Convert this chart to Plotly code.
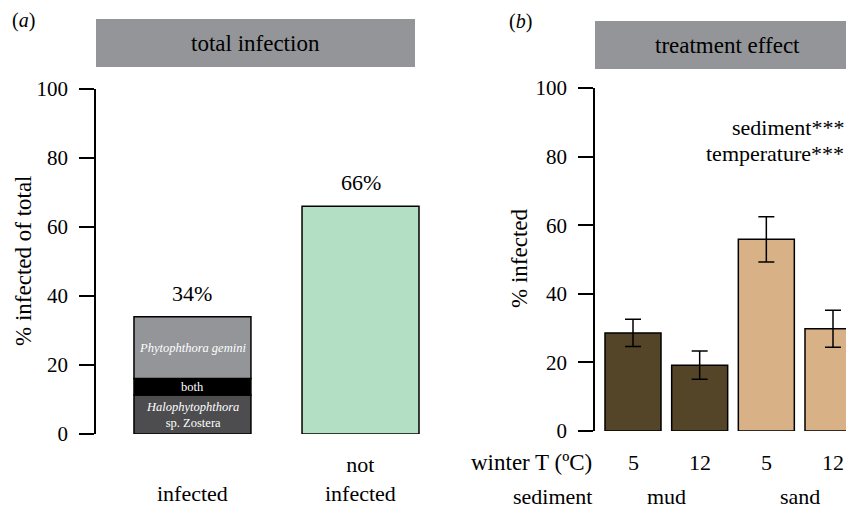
import plotly.graph_objects as go

# ---------------- data ----------------
# panel (a): total infection
a_positions = [0, 1]
a_labels = ["infected", "not<br>infected"]
a_totals = [34, 66]
a_total_text = ["34%", "66%"]
infected_segments = ["<i>Halophytophthora</i><br>sp. Zostera", "both", "<i>Phytophthora gemini</i>"]
infected_values = [11.3, 4.8, 17.9]
not_infected_value = [66]

# panel (b): treatment effect
b_positions = [0, 1, 2, 3]
b_temps = ["5", "12", "5", "12"]
b_sediments = ["mud", "sand"]
b_values = [28.6, 19.2, 55.9, 29.8]
b_errors = [4.0, 4.1, 6.6, 5.4]

y_ticks = [0, 20, 40, 60, 80, 100]

# ---------------- styles ----------------
FONT = "Liberation Serif, Times New Roman, Tinos, Nimbus Roman, DejaVu Serif, serif"
FS = 22
FS_L = 23
W, H = 854, 508
OFF = 8  # page offset of the figure inside the browser window
seg_colors = ["#4d4d4f", "#000000", "#939598"]
notinf_color = "#b3e0c5"
b_colors = ["#544428", "#544428", "#d8b186", "#d8b186"]
header_color = "#939598"


def px(x):
    return (x - OFF) / W


def py(y):
    return (H - (y - OFF)) / H


fig = go.Figure()

# panel a stacked bar
base = 0
for name, val, col in zip(infected_segments, infected_values, seg_colors):
    fig.add_trace(go.Bar(x=[a_positions[0]], y=[val], base=[base], width=0.696,
                         marker=dict(color=col, line=dict(color="black", width=1.5)),
                         xaxis="x", yaxis="y", showlegend=False, hoverinfo="skip"))
    base += val
fig.add_trace(go.Bar(x=[a_positions[1]], y=not_infected_value, width=0.696,
                     marker=dict(color=notinf_color, line=dict(color="black", width=1.5)),
                     xaxis="x", yaxis="y", showlegend=False, hoverinfo="skip"))

# panel b bars
fig.add_trace(go.Bar(x=b_positions, y=b_values, width=0.84,
                     marker=dict(color=b_colors, line=dict(color="black", width=1.5)),
                     error_y=dict(type="data", array=b_errors, color="black", thickness=1.5, width=8),
                     xaxis="x2", yaxis="y2", showlegend=False, hoverinfo="skip"))

annotations = []
# segment labels
base = 0
for name, val in zip(infected_segments, infected_values):
    annotations.append(dict(x=a_positions[0], y=base + val / 2, xref="x", yref="y", text=name,
                            showarrow=False, font=dict(family=FONT, size=12.5, color="white")))
    base += val
# totals above bars
for xpos, tot, txt in zip(a_positions, a_totals, a_total_text):
    annotations.append(dict(x=xpos, y=tot, xref="x", yref="y", text=txt, showarrow=False,
                            yanchor="bottom", yshift=9, font=dict(family=FONT, size=FS)))
# category labels panel a
for xpos, lab in zip(a_positions, a_labels):
    annotations.append(dict(x=xpos, y=py(508), xref="x", yref="paper", text=lab, showarrow=False,
                            yanchor="bottom", font=dict(family=FONT, size=FS)))
# temperature labels panel b
for xpos, lab in zip(b_positions, b_temps):
    annotations.append(dict(x=xpos, y=py(462), xref="x2", yref="paper", text=lab, showarrow=False,
                            yanchor="middle", font=dict(family=FONT, size=FS)))
# sediment labels
for i, lab in enumerate(b_sediments):
    annotations.append(dict(x=(b_positions[2 * i] + b_positions[2 * i + 1]) / 2, y=py(496), xref="x2",
                            yref="paper", text=lab, showarrow=False, yanchor="middle",
                            font=dict(family=FONT, size=FS)))
annotations += [
    dict(x=px(594), y=py(462), xref="paper", yref="paper", text="winter T (ºC)", showarrow=False,
         xanchor="right", yanchor="middle", font=dict(family=FONT, size=FS_L)),
    dict(x=px(594), y=py(496), xref="paper", yref="paper", text="sediment", showarrow=False,
         xanchor="right", yanchor="middle", font=dict(family=FONT, size=FS)),
    dict(x=px(846), y=py(127), xref="paper", yref="paper", text="sediment***", showarrow=False,
         xanchor="right", yanchor="middle", font=dict(family=FONT, size=FS)),
    dict(x=px(846), y=py(153), xref="paper", yref="paper", text="temperature***", showarrow=False,
         xanchor="right", yanchor="middle", font=dict(family=FONT, size=FS)),
    dict(x=px(255.5), y=py(44), xref="paper", yref="paper", text="total infection", showarrow=False,
         xanchor="center", yanchor="middle", font=dict(family=FONT, size=FS_L)),
    dict(x=px(727.5), y=py(46), xref="paper", yref="paper", text="treatment effect", showarrow=False,
         xanchor="center", yanchor="middle", font=dict(family=FONT, size=FS_L)),
    dict(x=px(10), y=py(21), xref="paper", yref="paper", text="(<i>a</i>)", showarrow=False,
         xanchor="left", yanchor="middle", font=dict(family=FONT, size=20)),
    dict(x=px(507), y=py(22), xref="paper", yref="paper", text="(<i>b</i>)", showarrow=False,
         xanchor="left", yanchor="middle", font=dict(family=FONT, size=20)),
    dict(x=px(23), y=py(261), xref="paper", yref="paper", text="% infected of total", showarrow=False,
         textangle=-90, xanchor="center", yanchor="middle", font=dict(family=FONT, size=FS_L)),
    dict(x=px(519), y=py(259), xref="paper", yref="paper", text="% infected", showarrow=False,
         textangle=-90, xanchor="center", yanchor="middle", font=dict(family=FONT, size=FS_L)),
]

shapes = [
    dict(type="rect", xref="paper", yref="paper", x0=px(96), x1=px(415), y0=py(67), y1=py(19),
         fillcolor=header_color, line=dict(width=0), layer="below"),
    dict(type="rect", xref="paper", yref="paper", x0=px(595), x1=1.05, y0=py(69), y1=py(21),
         fillcolor=header_color, line=dict(width=0), layer="below"),
]

yaxis_common = dict(range=[0, 100], tickvals=y_ticks, showline=True, linecolor="black", linewidth=1.5,
                    ticks="outside", ticklen=15, tickwidth=1.5, tickcolor="black", showgrid=False,
                    zeroline=False, ticklabelstandoff=7, automargin=False,
                    tickfont=dict(family=FONT, size=21, color="black"))
xaxis_common = dict(showline=False, showticklabels=False, showgrid=False, zeroline=False, ticks="",
                    automargin=False)

fig.update_layout(
    template="none",
    width=W, height=H,
    margin=dict(l=0, r=0, t=0, b=0, pad=0, autoexpand=False),
    paper_bgcolor="white", plot_bgcolor="white",
    barmode="overlay",
    font=dict(family=FONT, color="black", size=FS),
    xaxis=dict(domain=[px(96), px(420)], range=[-0.574, 1.354], **xaxis_common),
    yaxis=dict(domain=[py(434), py(89)], anchor="x", **yaxis_common),
    xaxis2=dict(domain=[px(595), 1.0], range=[-0.57, 3.435], anchor="y2", **xaxis_common),
    yaxis2=dict(domain=[py(431), py(88)], anchor="x2", **yaxis_common),
    annotations=annotations,
    shapes=shapes,
)

fig.write_html("out.html")
